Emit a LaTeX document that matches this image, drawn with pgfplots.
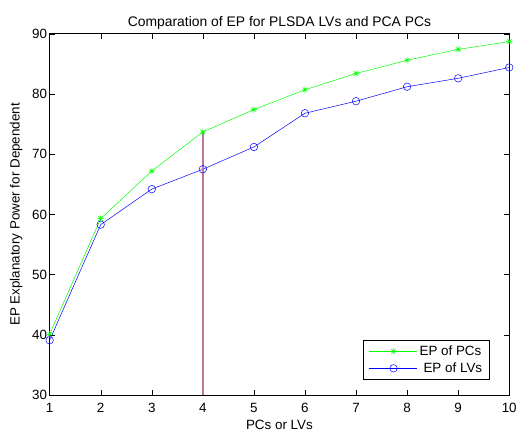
\documentclass[border=0pt]{standalone}
\usepackage{pgfplots}
\pgfplotsset{compat=1.18}
\usepackage{fontspec}
\setmainfont{Liberation Sans}
\definecolor{mgreen}{rgb}{0,1,0}
\definecolor{mblue}{rgb}{0,0,1}
\definecolor{mpurple}{rgb}{0.76,0.45,0.6}
\pgfdeclareplotmark{mstar}{%
  \pgfpathmoveto{\pgfqpoint{-\pgfplotmarksize}{0pt}}%
  \pgfpathlineto{\pgfqpoint{\pgfplotmarksize}{0pt}}%
  \pgfpathmoveto{\pgfqpoint{0pt}{-\pgfplotmarksize}}%
  \pgfpathlineto{\pgfqpoint{0pt}{\pgfplotmarksize}}%
  \pgfpathmoveto{\pgfqpoint{-0.707\pgfplotmarksize}{-0.707\pgfplotmarksize}}%
  \pgfpathlineto{\pgfqpoint{0.707\pgfplotmarksize}{0.707\pgfplotmarksize}}%
  \pgfpathmoveto{\pgfqpoint{-0.707\pgfplotmarksize}{0.707\pgfplotmarksize}}%
  \pgfpathlineto{\pgfqpoint{0.707\pgfplotmarksize}{-0.707\pgfplotmarksize}}%
  \pgfusepathqstroke}
\begin{document}
\begin{tikzpicture}
\begin{axis}[
  scale only axis,
  width=463pt, height=364pt,
  xmin=1, xmax=10, ymin=30, ymax=90,
  xtick={1,...,10}, ytick={30,40,...,90},
  tick align=inside,
  tick style={black, thin},
  major tick length=5pt,
  axis line style={black, line width=0.6pt},
  /pgf/number format/assume math mode=true,
  ticklabel style={font=\fontsize{13.5}{15}\selectfont},
  xticklabel style={yshift=-5pt},
  yticklabel style={xshift=1pt},
  title={Comparation of EP for PLSDA LVs and PCA PCs},
  title style={font=\fontsize{14}{15}\selectfont, yshift=-5pt},
  xlabel={PCs or LVs},
  ylabel={EP Explanatory Power for Dependent},
  xlabel style={font=\fontsize{13.5}{15}\selectfont, yshift=0pt},
  ylabel style={font=\fontsize{13.5}{15}\selectfont, yshift=3pt},
  clip=false,
  legend style={at={(rel axis cs:0.9568,0.044)}, anchor=south east,
    draw=black, line width=0.6pt, font=\fontsize{13.5}{15}\selectfont,
    inner xsep=5pt, inner ysep=3pt, row sep=2pt},
  legend cell align=left,
  legend image code/.code={%
    \path (-3pt,0pt) -- (46pt,0pt);
    \draw[mark repeat=2,mark phase=2,#1] plot coordinates {(0pt,0pt) (22pt,0pt) (44pt,0pt)};},
]
\addplot[color=mgreen, line width=0.5pt, mark=mstar, mark size=3.3pt, mark options={solid}] coordinates {
(1,40.1)(2,59.3)(3,67.2)(4,73.7)(5,77.4)(6,80.7)(7,83.4)(8,85.6)(9,87.4)(10,88.7)};
\addlegendentry{EP of PCs}
\addplot[color=mblue, line width=0.5pt, mark=o, mark size=3.8pt] coordinates {
(1,39.1)(2,58.3)(3,64.2)(4,67.5)(5,71.2)(6,76.8)(7,78.8)(8,81.2)(9,82.6)(10,84.4)};
\addlegendentry{\hspace{4pt}EP of LVs}
\addplot[color=mpurple, line width=1.4pt, forget plot] coordinates {(4,30)(4,73.7)};
\path (rel axis cs:0,0) ++(-50pt,-39pt) (rel axis cs:1,1) ++(7pt,34pt);
\end{axis}
\end{tikzpicture}
\end{document}
